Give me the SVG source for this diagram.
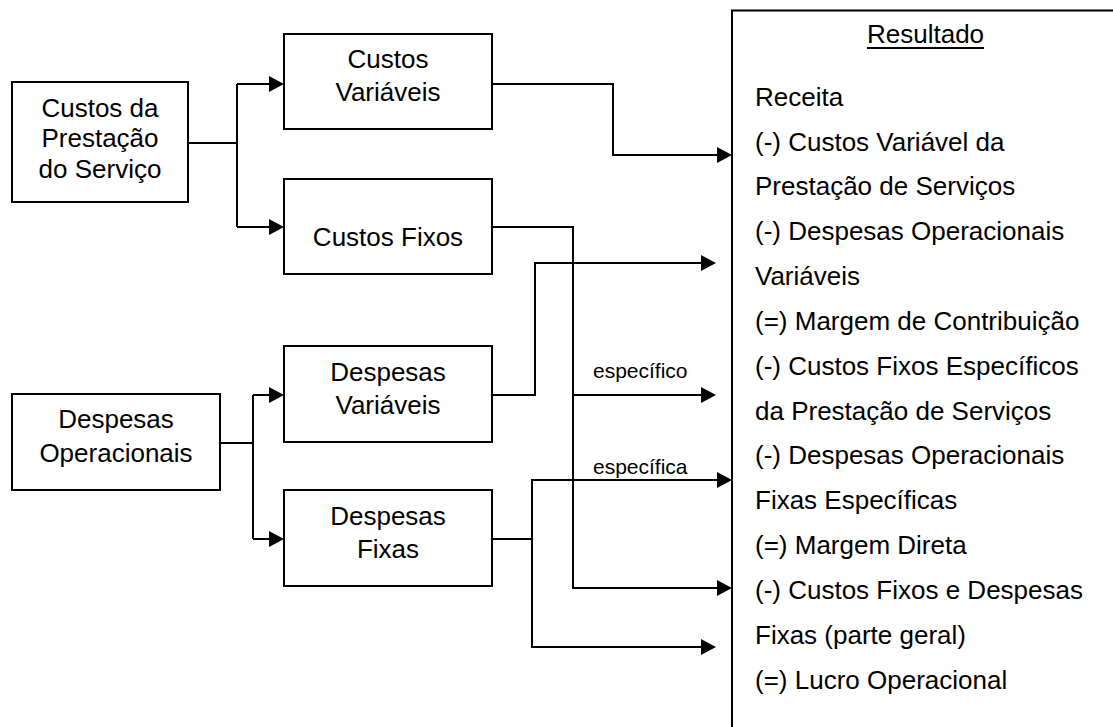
<svg xmlns="http://www.w3.org/2000/svg" width="1113" height="727" viewBox="0 0 1113 727">
  <style>
    .box { fill: #ffffff; stroke: #000000; stroke-width: 2; }
    .wire { fill: none; stroke: #000000; stroke-width: 2; }
    .arrow { marker-end: url(#head); }
    text { font-family: "Liberation Sans", Arial, Helvetica, sans-serif; fill: #000000; }
    .node { font-size: 26px; text-anchor: middle; }
    .res { font-size: 26px; }
    .tag { font-size: 21px; }
  </style>
  <defs>
    <marker id="head" viewBox="0 0 15 16" refX="7" refY="8" markerWidth="15" markerHeight="16" markerUnits="userSpaceOnUse" orient="auto">
      <path d="M0,0 L15,8 L0,16 Z" fill="#000000"/>
    </marker>
  </defs>

  <rect width="1113" height="727" fill="#ffffff"/>

  <!-- connectors -->
  <g id="connectors">
    <!-- cost split -->
    <path class="wire" d="M188,143 H237"/>
    <path class="wire" d="M237,84 V227"/>
    <path class="wire arrow" d="M237,84 H276"/>
    <path class="wire arrow" d="M237,227 H276"/>
    <!-- expense split -->
    <path class="wire" d="M220,443 H253"/>
    <path class="wire" d="M253,395 V539"/>
    <path class="wire arrow" d="M253,395 H276"/>
    <path class="wire arrow" d="M253,539 H276"/>
    <!-- variable costs -->
    <path class="wire arrow" d="M492,84 H613 V155 H724"/>
    <!-- fixed costs -->
    <path class="wire arrow" d="M492,227 H573 V588 H724"/>
    <path class="wire arrow" d="M573,395 H708"/>
    <!-- variable expenses -->
    <path class="wire arrow" d="M492,395 H535 V263 H708"/>
    <!-- fixed expenses -->
    <path class="wire arrow" d="M492,539 H532 V480 H724"/>
    <path class="wire arrow" d="M532,539 V647 H708"/>
    <text class="tag" x="593" y="378">específico</text>
    <text class="tag" x="593" y="474">específica</text>
  </g>

  <g id="custos-prestacao">
    <rect class="box" x="12" y="82" width="176" height="120"/>
    <text class="node" x="100" y="117">Custos da</text>
    <text class="node" x="100" y="147">Prestação</text>
    <text class="node" x="100" y="178">do Serviço</text>
  </g>

  <g id="custos-variaveis">
    <rect class="box" x="284" y="34" width="208" height="95"/>
    <text class="node" x="388" y="68">Custos</text>
    <text class="node" x="388" y="101">Variáveis</text>
  </g>

  <g id="custos-fixos">
    <rect class="box" x="284" y="179" width="208" height="95"/>
    <text class="node" x="388" y="246">Custos Fixos</text>
  </g>

  <g id="despesas-operacionais">
    <rect class="box" x="12" y="394" width="208" height="96"/>
    <text class="node" x="116" y="428">Despesas</text>
    <text class="node" x="116" y="462">Operacionais</text>
  </g>

  <g id="despesas-variaveis">
    <rect class="box" x="284" y="346" width="208" height="96"/>
    <text class="node" x="388" y="381">Despesas</text>
    <text class="node" x="388" y="414">Variáveis</text>
  </g>

  <g id="despesas-fixas">
    <rect class="box" x="284" y="490" width="208" height="96"/>
    <text class="node" x="388" y="525">Despesas</text>
    <text class="node" x="388" y="558">Fixas</text>
  </g>

  <!-- result statement: the frame runs off the right and bottom edges -->
  <g id="resultado">
    <path class="wire" d="M1115,10.5 H732 V730"/>
    <text class="res" x="867" y="43">Resultado</text>
    <line x1="867" y1="48" x2="984" y2="48" stroke="#000000" stroke-width="2"/>
    <text class="res" x="755" y="106">Receita</text>
    <text class="res" x="755" y="151">(-) Custos Variável da</text>
    <text class="res" x="755" y="195">Prestação de Serviços</text>
    <text class="res" x="755" y="240">(-) Despesas Operacionais</text>
    <text class="res" x="755" y="285">Variáveis</text>
    <text class="res" x="755" y="330">(=) Margem de Contribuição</text>
    <text class="res" x="755" y="375">(-) Custos Fixos Específicos</text>
    <text class="res" x="755" y="420">da Prestação de Serviços</text>
    <text class="res" x="755" y="464">(-) Despesas Operacionais</text>
    <text class="res" x="755" y="509">Fixas Específicas</text>
    <text class="res" x="755" y="554">(=) Margem Direta</text>
    <text class="res" x="755" y="599">(-) Custos Fixos e Despesas</text>
    <text class="res" x="755" y="644">Fixas (parte geral)</text>
    <text class="res" x="755" y="689">(=) Lucro Operacional</text>
  </g>
</svg>
